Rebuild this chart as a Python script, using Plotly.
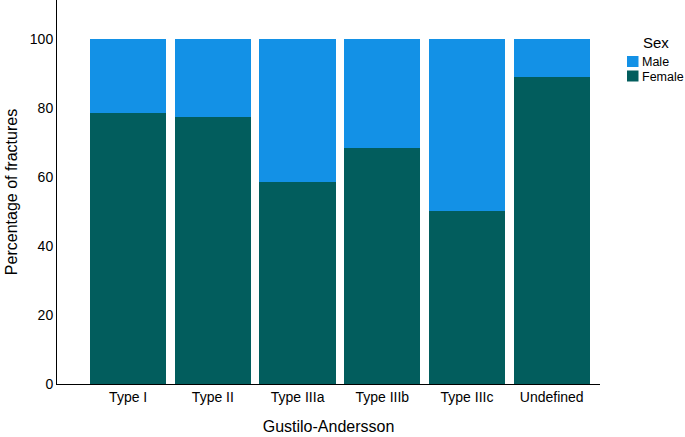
import plotly.graph_objects as go

# Gustilo-Andersson fracture types and share of fractures by sex (%)
types = ["Type I", "Type II", "Type IIIa", "Type IIIb", "Type IIIc", "Undefined"]
female = [78.6, 77.4, 58.5, 68.4, 50.0, 88.9]
male = [round(100 - f, 1) for f in female]

FONT = "Liberation Sans, Arial, Helvetica, sans-serif"
MALE_C = "#1391e6"
FEMALE_C = "#025d5d"

W, H = 685, 437
L, R, T, B = 57, 85, 0, 53
pw, ph = W - L - R, H - T - B

fig = go.Figure()
fig.add_trace(go.Bar(x=types, y=female, name="Female", marker_color=FEMALE_C,
                     marker_line_width=0, width=0.9, showlegend=False))
fig.add_trace(go.Bar(x=types, y=male, name="Male", marker_color=MALE_C,
                     marker_line_width=0, width=0.9, showlegend=False))

# legend drawn by hand so the swatches sit tight against the labels
def px_x(p):
    return (p - L) / pw

def px_y(p):
    return 1 - (p - T) / ph

fig.add_annotation(text="Sex", x=px_x(641), y=px_y(42), xref="paper", yref="paper",
                   xanchor="left", yanchor="middle", showarrow=False,
                   font=dict(size=15))
for label, color, top in [("Male", MALE_C, 56), ("Female", FEMALE_C, 70.5)]:
    fig.add_shape(type="rect", xref="paper", yref="paper",
                  x0=px_x(627), x1=px_x(638.5), y0=px_y(top), y1=px_y(top + 11),
                  fillcolor=color, line_width=0)
    fig.add_annotation(text=label, x=px_x(640), y=px_y(top + 6), xref="paper", yref="paper",
                       xanchor="left", yanchor="middle", showarrow=False,
                       font=dict(size=12.5))

fig.update_layout(
    barmode="stack",
    width=W, height=H,
    margin=dict(l=L, r=R, t=T, b=B),
    plot_bgcolor="white", paper_bgcolor="white",
    font=dict(family=FONT, size=14, color="black"),
)
fig.update_xaxes(
    range=[-0.84, 5.57],
    showline=True, linecolor="black", linewidth=1,
    ticks="", showgrid=False, automargin=False,
    title=dict(text="Gustilo-Andersson", font=dict(size=16), standoff=17),
    tickfont=dict(size=14),
)
fig.update_yaxes(
    range=[0, 111.3],
    tickvals=[0, 20, 40, 60, 80, 100],
    showline=True, linecolor="black", linewidth=1,
    ticks="", showgrid=False, zeroline=False, automargin=False,
    title=dict(text="Percentage of fractures", font=dict(size=16), standoff=8),
    tickfont=dict(size=14),
)

# the page body has an 8px default margin; drop it so the figure fills the window
fig.write_html("out.html", config={"displayModeBar": False},
               post_script="document.body.style.margin='0';")
